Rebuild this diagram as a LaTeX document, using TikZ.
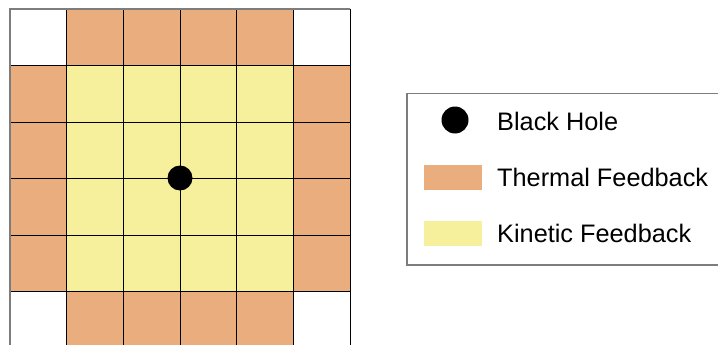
\documentclass[tikz,border=0pt]{standalone}
\usepackage{fontspec}
\setmainfont{Liberation Sans}
\definecolor{thermal}{RGB}{233,173,126}
\definecolor{kinetic}{RGB}{246,240,157}
\definecolor{framegray}{RGB}{125,125,125}
\begin{document}
\begin{tikzpicture}[x=1pt,y=-1pt,
  cellline/.style={draw=black,line width=0.9pt},
  legtext/.style={anchor=west,inner sep=0pt,font=\fontsize{25.3}{30}\selectfont},
  swatch/.style={minimum width=57.5pt,minimum height=25pt,inner sep=0pt,draw=none},
  bhdot/.style={circle,fill=black,inner sep=0pt}]
\useasboundingbox (0,0) rectangle (718,345);
\pgfmathsetmacro{\cw}{56.67}
\pgfmathsetmacro{\ch}{56.5}
% cells
\foreach \i in {0,...,5}{
  \foreach \j in {0,...,5}{
    \pgfmathtruncatemacro{\ring}{(\i==0 || \i==5 || \j==0 || \j==5) ? 1 : 0}
    \pgfmathtruncatemacro{\corner}{((\i==0 || \i==5) && (\j==0 || \j==5)) ? 1 : 0}
    \ifnum\corner=1
      \def\cc{white}
    \else\ifnum\ring=1
      \def\cc{thermal}
    \else
      \def\cc{kinetic}
    \fi\fi
    \fill[\cc] (10+\i*\cw,9+\j*\ch) rectangle (10+\i*\cw+\cw,9+\j*\ch+\ch);
  }
}
% grid lines
\foreach \i in {1,...,6}{
  \draw[cellline] (10+\i*\cw,9) -- (10+\i*\cw,9+6*\ch);
}
\foreach \j in {1,...,6}{
  \draw[cellline] (10,9+\j*\ch) -- (10+6*\cw,9+\j*\ch);
}
\draw[draw=framegray,line width=1.6pt] (10,9+6*\ch) -- (10,9) -- (10+6*\cw,9);
% black hole
\node[bhdot,minimum size=25pt] (bh) at (180,178) {};
% legend
\draw[draw=framegray,line width=1.4pt] (407,93.5) rectangle (725,265);
\node[bhdot,minimum size=27pt] (lbh) at (455,120) {};
\node[legtext] (tbh) at (497,121) {Black Hole};
\node[swatch,fill=thermal] (lth) at (453,177) {};
\node[legtext] (tth) at (497,177) {Thermal Feedback};
\node[swatch,fill=kinetic] (lki) at (453,233) {};
\node[legtext] (tki) at (497,233) {Kinetic Feedback};
\end{tikzpicture}
\end{document}
